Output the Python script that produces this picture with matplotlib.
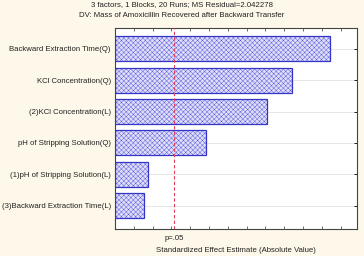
import matplotlib
matplotlib.use("Agg")
import numpy as np
import matplotlib.pyplot as plt
from matplotlib.transforms import blended_transform_factory

effects = [
    "Backward Extraction Time(Q)",
    "KCl Concentration(Q)",
    "(2)KCl Concentration(L)",
    "pH of Stripping Solution(Q)",
    "(1)pH of Stripping Solution(L)",
    "(3)Backward Extraction Time(L)",
]
estimates = [11.44, 9.41, 8.09, 4.84, 1.76, 1.54]
p_crit = 3.14

title1 = "3 factors, 1 Blocks, 20 Runs; MS Residual=2.042278"
title2 = "DV: Mass of Amoxicillin Recovered after Backward Transfer"

plt.rcParams["font.family"] = ["Liberation Sans", "DejaVu Sans"]
plt.rcParams["hatch.linewidth"] = 0.3
bg = "#fdf8e9"
txt = "#222222"

fig = plt.figure(figsize=(3.64, 2.56), dpi=100, facecolor=bg)
ax = fig.add_axes([0.316, 0.105, 0.665, 0.786])

ypos = np.arange(len(effects))
# hatched fill, then a solid outline on top
ax.barh(ypos, estimates, height=0.8, color="#dedef9", edgecolor="#5050dc",
        hatch="xxxxxxx", linewidth=0, zorder=2)
ax.barh(ypos, estimates, height=0.8, color="none", edgecolor="#3434c8",
        linewidth=0.9, zorder=2.5)
ax.axvline(p_crit, color="#e0405a", linestyle=(0, (3, 2)), linewidth=0.8, zorder=3)

ax.set_xlim(0, 12.87)
ax.set_ylim(len(effects) - 0.25, -0.67)
ax.set_xticks(np.arange(0, 13, 1))
ax.set_xticklabels([])
ax.tick_params(axis="x", direction="in", length=2, width=0.6, top=True,
               colors="#555555")
ax.set_yticks(ypos)
ax.set_yticklabels(effects, fontsize=5.6, color=txt)
ax.tick_params(axis="y", direction="in", length=2, width=0.6, left=False,
               right=True, pad=3)
ax.grid(axis="y", color="#e2e2e2", linewidth=0.6, zorder=0)
for s in ax.spines.values():
    s.set_color("#444444")
    s.set_linewidth(0.8)

trans = blended_transform_factory(ax.transData, fig.transFigure)
ax.text(p_crit, 1 - 238 / 256, "p=.05", transform=trans,
        ha="center", va="center", fontsize=5.6, color=txt)
fig.text(236 / 364, 1 - 251 / 256, "Standardized Effect Estimate (Absolute Value)",
         ha="center", va="center", fontsize=5.6, color=txt)

fig.text(0.5, 1 - 5 / 256, title1, ha="center", va="center", fontsize=5.6, color=txt)
fig.text(0.5, 1 - 15.5 / 256, title2, ha="center", va="center", fontsize=5.6, color=txt)

fig.savefig("out.png", dpi=100, facecolor=bg)
